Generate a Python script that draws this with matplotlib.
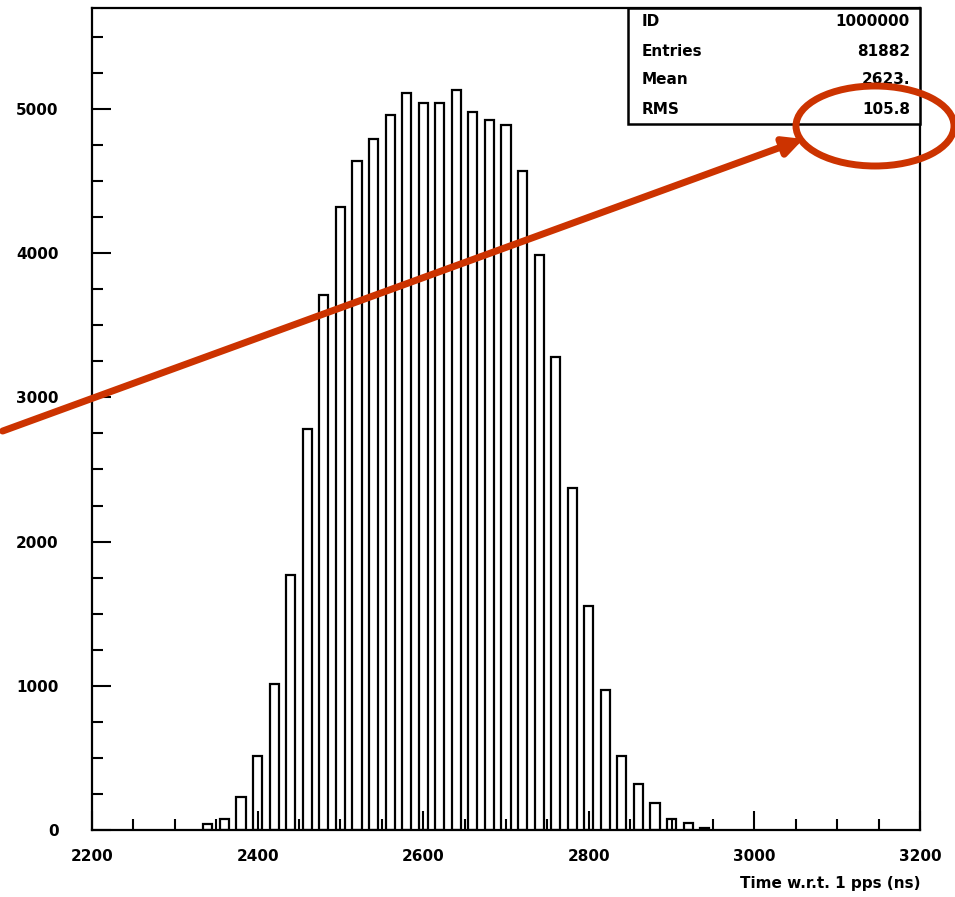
import matplotlib
matplotlib.use('Agg')
import matplotlib.pyplot as plt
import numpy as np
from matplotlib.patches import Ellipse, FancyArrowPatch
from matplotlib.ticker import MultipleLocator

# histogram bins (ns) and counts
bin_centers = [2340, 2360, 2380, 2400, 2420, 2440, 2460, 2480, 2500, 2520,
               2540, 2560, 2580, 2600, 2620, 2640, 2660, 2680, 2700, 2720,
               2740, 2760, 2780, 2800, 2820, 2840, 2860, 2880, 2900, 2920, 2940]
counts = [40, 75, 230, 515, 1015, 1770, 2780, 3710, 4320, 4640,
          4790, 4960, 5110, 5040, 5040, 5130, 4980, 4920, 4890, 4570,
          3990, 3280, 2370, 1555, 970, 515, 320, 190, 75, 50, 15]

stats_names = ['ID', 'Entries', 'Mean', 'RMS']
stats_values = ['1000000', '81882', '2623.', '105.8']

W, H = 955, 897
fig = plt.figure(figsize=(W / 100, H / 100), dpi=100)
ax = fig.add_axes([92 / W, 1 - 830 / H, (920 - 92) / W, (830 - 8) / H])

ax.bar(bin_centers, counts, width=11, fill=False, edgecolor='black', linewidth=1.6)

ax.set_xlim(2200, 3200)
ax.set_ylim(0, 5700)
ax.xaxis.set_major_locator(MultipleLocator(200))
ax.xaxis.set_minor_locator(MultipleLocator(50))
ax.yaxis.set_major_locator(MultipleLocator(1000))
ax.yaxis.set_minor_locator(MultipleLocator(250))
ax.tick_params(which='both', direction='in', top=False, right=False, width=1.5)
ax.tick_params(which='major', length=14, labelsize=11, pad=14)
ax.tick_params(axis='y', which='major', pad=24)
ax.tick_params(which='minor', length=8)
for lab in ax.get_xticklabels() + ax.get_yticklabels():
    lab.set_fontweight('bold')
for sp in ax.spines.values():
    sp.set_linewidth(1.6)

ax.set_xlabel('Time w.r.t. 1 pps (ns)', fontsize=11, fontweight='bold',
              loc='right', labelpad=8)

# stats box in the top right corner
bx0, bx1, by0, by1 = 628, 920, 8, 124
box = plt.Rectangle((bx0 / W, 1 - by1 / H), (bx1 - bx0) / W, (by1 - by0) / H,
                    transform=fig.transFigure, fill=True, facecolor='white',
                    edgecolor='black', linewidth=1.8, zorder=5)
fig.patches.append(box)
for i, (n, v) in enumerate(zip(stats_names, stats_values)):
    yy = 1 - (22 + 29 * i) / H
    fig.text(642 / W, yy, n, fontsize=11, fontweight='bold', va='center',
             ha='left', zorder=6)
    fig.text(910 / W, yy, v, fontsize=11, fontweight='bold', va='center',
             ha='right', zorder=6)

# red annotation arrow and ellipse
red = '#cc3300'
arrow = FancyArrowPatch((0 / W, 1 - 432 / H), (806 / W, 1 - 138 / H),
                        transform=fig.transFigure, arrowstyle='-|>',
                        mutation_scale=28, color=red, linewidth=5, zorder=7)
fig.patches.append(arrow)
ell = Ellipse((875 / W, 1 - 126 / H), 158 / W, 80 / H, transform=fig.transFigure,
              fill=False, edgecolor=red, linewidth=5, zorder=7)
fig.patches.append(ell)

fig.savefig('out.png', dpi=100)
